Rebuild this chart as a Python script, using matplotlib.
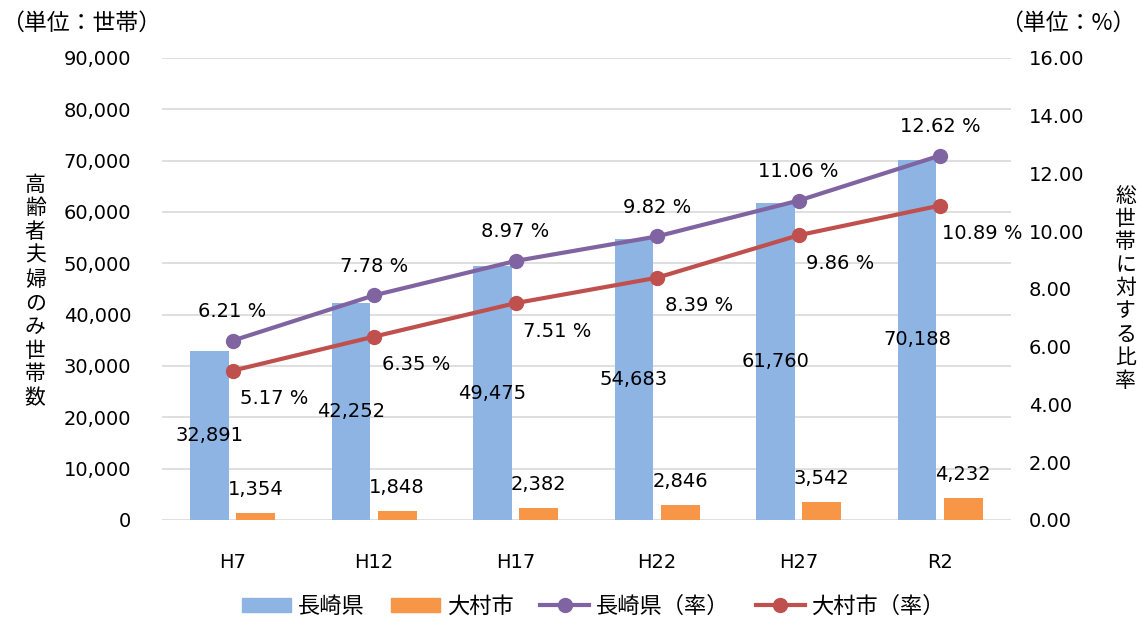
import matplotlib
matplotlib.use("Agg")
import matplotlib.pyplot as plt
from matplotlib.patches import Patch
from matplotlib.lines import Line2D
import numpy as np

plt.rcParams['font.family'] = ['DejaVu Sans', 'Noto Sans CJK JP']
JP = ['Noto Sans CJK JP', 'DejaVu Sans']

categories = ["H7", "H12", "H17", "H22", "H27", "R2"]
nagasaki = [32891, 42252, 49475, 54683, 61760, 70188]
omura = [1354, 1848, 2382, 2846, 3542, 4232]
nagasaki_rate = [6.21, 7.78, 8.97, 9.82, 11.06, 12.62]
omura_rate = [5.17, 6.35, 7.51, 8.39, 9.86, 10.89]
left_ticks = [0, 10000, 20000, 30000, 40000, 50000, 60000, 70000, 80000, 90000]
right_ticks = [0, 2, 4, 6, 8, 10, 12, 14, 16]

c_blue = "#8EB4E3"
c_orange = "#F79646"
c_purple = "#8064A2"
c_red = "#C0504D"
FS = 14
FJ = 16.5

fig = plt.figure(figsize=(11.37, 6.2), dpi=100)
ax = fig.add_axes([0.1423, 0.1613, 0.7467, 0.7452])
ax2 = ax.twinx()

x = np.arange(len(categories))
w = 0.275
off = 0.163
ax.bar(x - off, nagasaki, w, color=c_blue, zorder=2)
ax.bar(x + off, omura, w, color=c_orange, zorder=2)

ax.set_xlim(-0.5, len(categories) - 0.5)
ax.set_ylim(0, 90000)
ax.set_yticks(left_ticks)
ax.set_yticklabels([f"{v:,}" for v in left_ticks], fontsize=FS)
ax.set_xticks(x)
ax.set_xticklabels(categories, fontsize=FS)
ax.tick_params(axis='both', length=0)
ax.tick_params(axis='y', pad=22)
ax.tick_params(axis='x', pad=24)
ax.grid(axis='y', color='#D9D9D9', linewidth=1.2, zorder=0)
ax.set_axisbelow(True)
for s in ax.spines.values():
    s.set_visible(False)

ax2.set_ylim(0, 16)
ax2.set_yticks(right_ticks)
ax2.set_yticklabels([f"{v:.2f}" for v in right_ticks], fontsize=FS)
ax2.tick_params(axis='y', length=0, pad=13)
for s in ax2.spines.values():
    s.set_visible(False)

ax2.plot(x, nagasaki_rate, color=c_purple, linewidth=3, marker='o', markersize=10, zorder=3)
ax2.plot(x, omura_rate, color=c_red, linewidth=3, marker='o', markersize=10, zorder=3)

for xi, v in zip(x, nagasaki):
    ax.text(xi - off, v / 2, f"{v:,}", ha='center', va='center', fontsize=FS, zorder=4)
for xi, v in zip(x, omura):
    ax.annotate(f"{v:,}", (xi + off, v), xytext=(0, 14), textcoords='offset pixels',
                ha='center', va='bottom', fontsize=FS)
for xi, v in zip(x, nagasaki_rate):
    ax2.annotate(f"{v:.2f} %", (xi, v), xytext=(0, 29), textcoords='offset pixels',
                 ha='center', va='center', fontsize=FS)
for xi, v in zip(x, omura_rate):
    ax2.annotate(f"{v:.2f} %", (xi, v), xytext=(42, -28), textcoords='offset pixels',
                 ha='center', va='center', fontsize=FS)

fig.text(0.001, 0.963, "（単位：世帯）", fontsize=FJ, ha='left', va='center', family=JP)
fig.text(0.999, 0.963, "（単位：%）", fontsize=FJ, ha='right', va='center', family=JP)
fig.text(0.031, 0.53, "\n".join("高齢者夫婦のみ世帯数"), fontsize=15, ha='center', va='center',
         linespacing=1.1, family=JP)
fig.text(0.99, 0.535, "\n".join("総世帯に対する比率"), fontsize=15, ha='center', va='center',
         linespacing=1.07, family=JP)

handles = [Patch(color=c_blue), Patch(color=c_orange),
           Line2D([0], [0], color=c_purple, lw=3, marker='o', markersize=10),
           Line2D([0], [0], color=c_red, lw=3, marker='o', markersize=10)]
labels = ["長崎県", "大村市", "長崎県（率）", "大村市（率）"]
fig.legend(handles, labels, loc='center', bbox_to_anchor=(0.522, 0.022), ncol=4, frameon=False,
           prop={'family': JP, 'size': 16}, handlelength=2.2, columnspacing=1.2,
           handletextpad=0.3, handleheight=0.6)

fig.savefig("out.png", dpi=100)
